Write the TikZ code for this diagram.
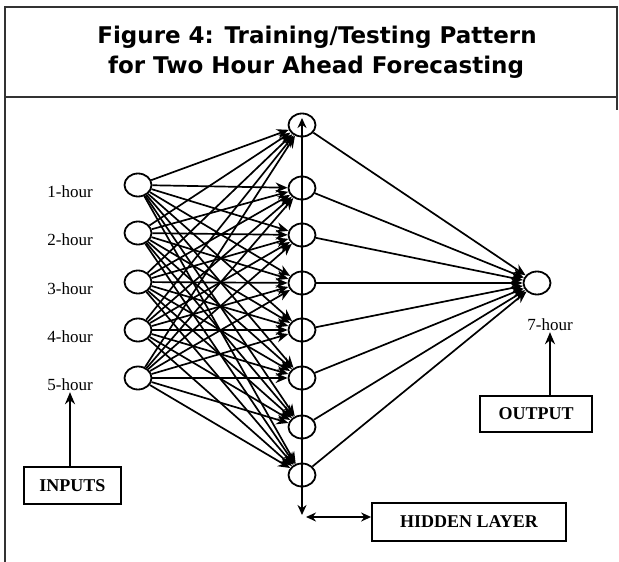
\documentclass[tikz,border=0pt]{standalone}
\usepackage{fontspec}
\setmainfont{Liberation Serif}
\newfontfamily\titlefont{DejaVu Sans Bold}
\usetikzlibrary{shapes.geometric,arrows.meta}
\begin{document}
\begin{tikzpicture}[x=1pt,y=-1pt,
  neuron/.style={ellipse,draw,line width=1.8pt,minimum width=27pt,minimum height=23pt,inner sep=0pt},
  conn/.style={line width=1.7pt,-{Stealth[length=12pt,width=10pt]}},
  arr/.style={line width=1.9pt,-{Stealth[length=12pt,width=10pt]}},
  darr/.style={line width=1.9pt,{Stealth[length=10pt,width=9pt]}-{Stealth[length=10pt,width=9pt]}},
  lbl/.style={font=\fontsize{17}{17}\selectfont,inner sep=1pt},
  labelbox/.style={draw,line width=1.8pt,font=\bfseries\fontsize{18}{18}\selectfont,inner sep=0pt},
  frameline/.style={line width=1.3pt,draw=black!80},
  titletext/.style={font=\titlefont\fontsize{23}{23}\selectfont}]
\useasboundingbox (0,0) rectangle (619,562);
\draw[frameline] (5,562) -- (5,7) -- (617,7) -- (617,110);
\draw[frameline] (5,97) -- (617,97);
\node[titletext] (t1) at (317,37) {Figure 4: Training/Testing Pattern};
\node[titletext] (t2) at (316,67) {for Two Hour Ahead Forecasting};
% input layer
\foreach \n/\y in {1/185,2/233,3/282,4/330,5/378}{
  \node[neuron] (i\n) at (138,\y) {};
  \node[lbl] (l\n) at (70,\y+7) {\n-hour};
}
% hidden layer
\foreach \n/\y in {1/125,2/188,3/235,4/283,5/330,6/378,7/427,8/475}{
  \node[neuron] (h\n) at (302,\y) {};
}
% output
\node[neuron] (o) at (537,283) {};
\node[lbl] (l7) at (550,325) {7-hour};
% connections
\foreach \a in {1,...,5}{
  \foreach \b in {1,...,8}{
    \draw[conn] (i\a) -- (h\b);
  }
}
\foreach \b in {1,...,8}{
  \draw[conn] (h\b) -- (o);
}
% vertical axis through hidden layer
\coordinate (vt) at (302,118);
\coordinate (vb) at (302,515);
\draw[darr] (vb) -- (vt);
% boxes
\node[labelbox,minimum width=97pt,minimum height=37pt] (inputs) at (72.5,485.5) {INPUTS};
\node[labelbox,minimum width=112pt,minimum height=36pt] (outbox) at (536,414) {OUTPUT};
\node[labelbox,minimum width=194pt,minimum height=38pt] (hidbox) at (469,522) {HIDDEN LAYER};
\draw[arr] (inputs.north -| l5.south) -- (l5.south);
\draw[arr] (outbox.north -| l7.south) -- (l7.south);
\coordinate (hl) at (306,517);
\draw[darr] (hl) -- (hl -| hidbox.west);
\end{tikzpicture}
\end{document}
